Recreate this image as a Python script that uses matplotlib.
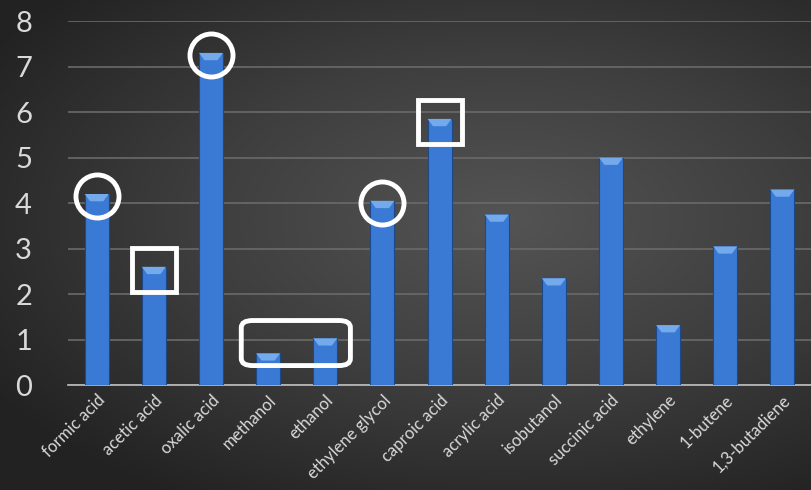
import numpy as np
import matplotlib
matplotlib.use('Agg')
import matplotlib.pyplot as plt
from matplotlib.patches import FancyBboxPatch, Polygon

# products and their values
products = ['formic acid', 'acetic acid', 'oxalic acid', 'methanol', 'ethanol',
            'ethylene glycol', 'caproic acid', 'acrylic acid', 'isobutanol',
            'succinic acid', 'ethylene', '1-butene', '1,3-butadiene']
values = [4.2, 2.6, 7.3, 0.7, 1.03, 4.05, 5.85, 3.75, 2.35, 5.0, 1.32, 3.05, 4.3]
yticks = [0, 1, 2, 3, 4, 5, 6, 7, 8]

# which bars are marked
circled = ['formic acid', 'oxalic acid', 'ethylene glycol']
boxed = ['acetic acid', 'caproic acid']
grouped = ['methanol', 'ethanol']

plt.rcParams['font.family'] = ['Lato', 'DejaVu Sans']
fig = plt.figure(figsize=(8.11, 4.90), dpi=100)

# dark radial background
bg = fig.add_axes([0, 0, 1, 1], zorder=-10)
yy, xx = np.mgrid[0:1:300j, 0:1:500j]
r = np.sqrt(((xx - 0.62) / 1.0) ** 2 + ((yy - 0.45) / 0.9) ** 2)
bg.imshow(np.clip(r, 0, 1), cmap=matplotlib.colors.LinearSegmentedColormap.from_list(
    'bgc', ['#545454', '#3e3e3e', '#222222']), extent=[0, 1, 0, 1], aspect='auto',
    vmin=0, vmax=0.75)
bg.axis('off')

ax = fig.add_axes([0.084, 0.214, 0.916, 0.743])
ax.patch.set_alpha(0)
x = np.arange(len(products))
w = 0.42
ax.bar(x, values, width=w, color='#3a7ad4', edgecolor='#1d4a86', lw=0.8, zorder=3)
# bevel highlight at top of each bar
for xi, v in zip(x, values):
    ax.add_patch(Polygon([(xi - w / 2, v), (xi + w / 2, v), (xi + w / 2 * 0.55, v - 0.16),
                          (xi - w / 2 * 0.55, v - 0.16)], closed=True,
                         facecolor='#74aaec', edgecolor='none', zorder=4))

ax.set_xlim(-0.5, len(products) - 0.5)
ax.set_ylim(0, 8)
ax.set_yticks(yticks)
ax.set_yticklabels([str(t) for t in yticks], fontsize=21, color='#d9d9d9')
ax.yaxis.grid(True, color='#6a6a6a', lw=1.2, zorder=0)
ax.set_xticks(x)
ax.set_xticklabels(products, rotation=45, ha='right', rotation_mode='anchor',
                   fontsize=12, color='#d9d9d9')
ax.tick_params(length=0)
ax.tick_params(axis='y', pad=26)
ax.tick_params(axis='x', pad=5)
for s in ['top', 'right', 'left']:
    ax.spines[s].set_visible(False)
ax.spines['bottom'].set_color('#bfbfbf')
ax.spines['bottom'].set_linewidth(1.2)

# annotations
for name in circled:
    i = products.index(name)
    ax.plot(i, values[i] - 0.05, 'o', ms=31, mfc='none', mec='white', mew=3.5, zorder=6,
            clip_on=False)
for name in boxed:
    i = products.index(name)
    ax.plot(i + 0.01, values[i] - 0.07, 's', ms=31, mfc='none', mec='white', mew=3.5,
            zorder=6, clip_on=False)
i0, i1 = products.index(grouped[0]), products.index(grouped[1])
ax.add_patch(FancyBboxPatch((i0 - 0.47, 0.43), (i1 - i0) + 0.91, 0.99,
                            boxstyle='round,pad=0,rounding_size=0.2',
                            mutation_aspect=1 / 1.3, facecolor='none', edgecolor='white',
                            lw=3.5, zorder=6))

fig.savefig('out.png', dpi=100)
